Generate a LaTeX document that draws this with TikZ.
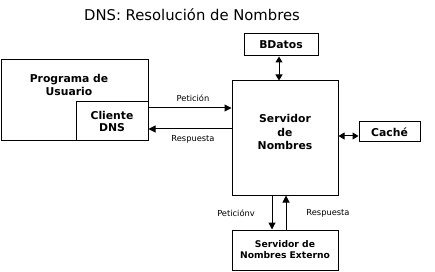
\documentclass[tikz,border=0pt]{standalone}
\usepackage{fontspec}
\setmainfont{DejaVu Sans}
\usetikzlibrary{arrows.meta}
\tikzset{
    caja/.style={draw, line width=1pt, inner sep=0pt, font=\bfseries\fontsize{10.8}{12.5}\selectfont, align=center},
    flecha/.style={line width=1pt, -{Triangle[length=7pt,width=7pt]}},
    doble/.style={line width=1pt, {Triangle[length=6pt,width=7pt]}-{Triangle[length=6pt,width=7pt]}},
    etiq/.style={font=\fontsize{8.3}{10}\selectfont}
}
\begin{document}
\begin{tikzpicture}[x=1pt, y=-1pt]
    \useasboundingbox (0,0) rectangle (435,272);
    \node[font=\fontsize{14.8}{17}\selectfont] (titulo) at (192,15) {DNS: Resolución de Nombres};
    % cajas
    \node[caja, minimum width=147pt, minimum height=81pt] (prog) at (74.5,100.5) {};
    \node[caja, draw=none] (progtxt) at (69,85) {Programa de\\Usuario};
    \node[caja, minimum width=72pt, minimum height=39pt] (cliente) at (112,121.5) {Cliente\\DNS};
    \node[caja, minimum width=106pt, minimum height=114pt] (server) at (285,138) {};
    \node[caja, draw=none, font=\bfseries\fontsize{10.8}{13.5}\selectfont] (servtxt) at (285,132) {Servidor\\de\\Nombres};
    \node[caja, minimum width=74pt, minimum height=22pt] (bdatos) at (281,45) {BDatos};
    \node[caja, minimum width=61pt, minimum height=20pt] (cache) at (389.5,132) {Caché};
    \node[caja, minimum width=106pt, minimum height=40pt, font=\bfseries\fontsize{9.2}{11}\selectfont] (externo) at (285,250) {Servidor de\\Nombres Externo};
    % conectores
    \draw[flecha] (prog.east |- 0,108) -- (server.west |- 0,108);
    \draw[flecha] (server.west |- 0,129) -- (prog.east |- 0,129);
    \node[etiq] (lpet) at (193,98) {Petición};
    \node[etiq] (lres) at (193,139) {Respuesta};
    \draw[doble] (bdatos.south -| 279,0) -- (server.north -| 279,0);
    \draw[doble] (server.east |- 0,136) -- (cache.west |- 0,136);
    \draw[flecha] (server.south -| 272,0) -- (externo.north -| 272,0);
    \draw[flecha] (externo.north -| 286,0) -- (server.south -| 286,0);
    \node[etiq] (lpetv) at (236,213) {Peticiónv};
    \node[etiq] (lresv) at (328,213) {Respuesta};
\end{tikzpicture}
\end{document}
